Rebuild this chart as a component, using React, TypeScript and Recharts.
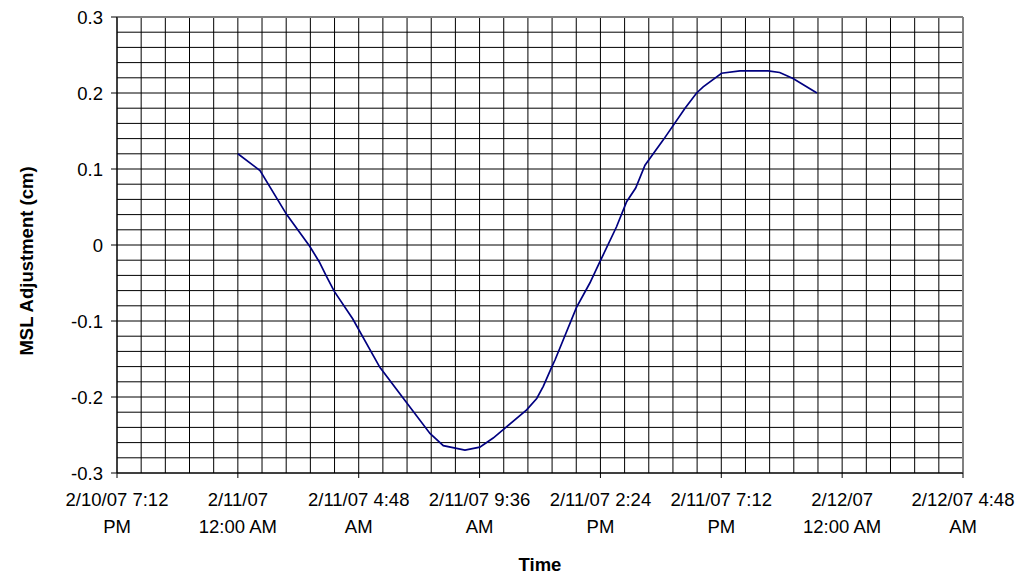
import React from "react";
import {
  LineChart,
  Line,
  XAxis,
  YAxis,
  CartesianGrid,
  ReferenceLine,
} from "recharts";

// hours after 2/11/07 12:00 AM
const hours = [
  0, 0.88, 1.94, 2.86, 3.23, 3.53, 3.83, 4.56, 5.64, 6.6, 7.63, 8.16, 9.02,
  9.61, 10.14, 10.54, 11.47, 11.87, 12.13, 12.46, 12.6, 13.45, 13.98, 14.38,
  15.04, 15.44, 15.8, 16.17, 16.89, 17.76, 18.22, 18.48, 19.21, 19.94, 21.06,
  21.52, 22.05, 23.0,
];
const msl = [
  0.12, 0.098, 0.04, -0.002, -0.022, -0.042, -0.061, -0.097, -0.161, -0.203,
  -0.248, -0.264, -0.27, -0.266, -0.254, -0.243, -0.217, -0.202, -0.186,
  -0.161, -0.151, -0.082, -0.05, -0.022, 0.024, 0.057, 0.075, 0.105, 0.138,
  0.18, 0.2, 0.208, 0.226, 0.229, 0.229, 0.227, 0.219, 0.2,
];

const xTicks = [-4.8, 0, 4.8, 9.6, 14.4, 19.2, 24, 28.8];
const xTickTop = [
  "2/10/07 7:12",
  "2/11/07",
  "2/11/07 4:48",
  "2/11/07 9:36",
  "2/11/07 2:24",
  "2/11/07 7:12",
  "2/12/07",
  "2/12/07 4:48",
];
const xTickBottom = ["PM", "12:00 AM", "AM", "AM", "PM", "PM", "12:00 AM", "AM"];
const yTicks = [-0.3, -0.2, -0.1, 0, 0.1, 0.2, 0.3];

const data = hours.map((h, i) => ({ h, v: msl[i] }));

// minor gridlines: 0.96 h across, 0.02 cm up
const vGrid: number[] = [];
for (let k = 0; k <= 35; k++) vGrid.push(-4.8 + k * 0.96);
const hGrid: number[] = [];
for (let k = 0; k <= 30; k++) hGrid.push(-0.3 + k * 0.02);

const FONT = "'Liberation Sans', Arial, sans-serif";

const TimeTick = (props: any) => {
  const { x, y, index } = props;
  return (
    <text x={x} y={y} textAnchor="middle" fontFamily={FONT} fontSize={18.5} fill="#000">
      <tspan x={x} y={y + 28}>{xTickTop[index]}</tspan>
      <tspan x={x} y={y + 55}>{xTickBottom[index]}</tspan>
    </text>
  );
};

export default function App() {
  return (
    <div style={{ position: "absolute", left: 0, top: 0, background: "#fff" }}>
      <LineChart
        width={1021}
        height={576}
        data={data}
        margin={{ top: 17, right: 58, left: 0, bottom: 0 }}
      >
        <CartesianGrid
          stroke="#000"
          strokeWidth={1}
          verticalValues={vGrid}
          horizontalValues={hGrid}
        />
        <XAxis
          dataKey="h"
          type="number"
          domain={[-4.8, 28.8]}
          ticks={xTicks}
          interval={0}
          height={103}
          tickSize={5}
          tickMargin={0}
          stroke="#000"
          tick={<TimeTick />}
          label={{
            content: () => (
              <text x={540} y={571} textAnchor="middle" fontFamily={FONT} fontSize={18.5} fontWeight="bold" fill="#000">
                Time
              </text>
            ),
          }}
        />
        <YAxis
          type="number"
          domain={[-0.3, 0.3]}
          ticks={yTicks}
          interval={0}
          width={117}
          tickSize={6}
          tickMargin={8}
          stroke="#000"
          tick={{ fontFamily: FONT, fontSize: 18.5, fill: "#000" }}
          tickFormatter={(v: number) => (Math.abs(v) < 1e-9 ? "0" : v.toFixed(1))}
          label={{
            content: () => (
              <text
                x={33}
                y={261}
                transform="rotate(-90 33 261)"
                textAnchor="middle"
                fontFamily={FONT}
                fontSize={18.5}
                fontWeight="bold"
                fill="#000"
              >
                MSL Adjustment (cm)
              </text>
            ),
          }}
        />
        <ReferenceLine y={0.3} stroke="#808080" strokeWidth={2} />
        <ReferenceLine x={28.8} stroke="#808080" strokeWidth={2} />
        <Line
          type="linear"
          dataKey="v"
          stroke="#000080"
          strokeWidth={1.7}
          dot={false}
          isAnimationActive={false}
        />
      </LineChart>
    </div>
  );
}
